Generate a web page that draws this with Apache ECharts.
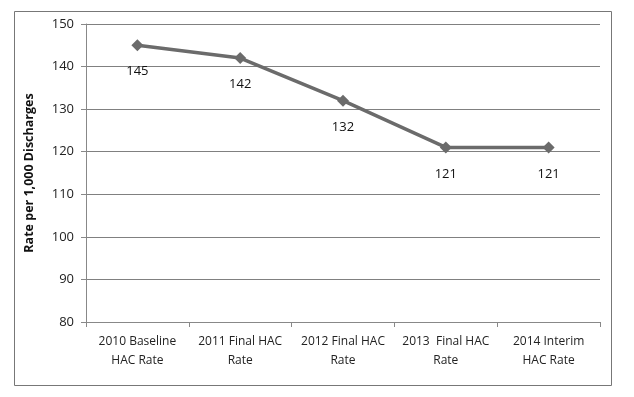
<!DOCTYPE html>
<html>
<head>
<meta charset="utf-8">
<script src="https://cdn.jsdelivr.net/npm/echarts@6/dist/echarts.min.js"></script>
<style>
  html, body { margin: 0; padding: 0; background: #fff; }
  #chart { width: 634px; height: 397px; }
</style>
</head>
<body>
<div id="chart"></div>
<script>
'use strict';
var categories = ['2010 Baseline\nHAC Rate', '2011 Final HAC\nRate', '2012 Final HAC\nRate', '2013  Final HAC\nRate', '2014 Interim\nHAC Rate'];
var rates = [145, 142, 132, 121, 121];
var yTicks = [80, 90, 100, 110, 120, 130, 140, 150];

var chart = echarts.init(document.getElementById('chart'));
var font = "'Open Sans', 'Noto Sans', sans-serif";
chart.setOption({
  animation: false,
  backgroundColor: '#fff',
  textStyle: { fontFamily: font },
  graphic: [{
    type: 'rect',
    shape: { x: 14.5, y: 11.5, width: 597, height: 374 },
    style: { fill: 'none', stroke: '#777', lineWidth: 1 }
  }],
  grid: { left: 86, right: 34, top: 24, bottom: 75 },
  xAxis: {
    type: 'category',
    data: categories,
    boundaryGap: true,
    axisLine: { lineStyle: { color: '#888' } },
    axisTick: { show: true, length: 5, lineStyle: { color: '#888' } },
    axisLabel: { color: '#222', fontSize: 12, lineHeight: 19, margin: 10, interval: 0 }
  },
  yAxis: {
    type: 'value',
    min: yTicks[0],
    max: yTicks[yTicks.length - 1],
    interval: 10,
    name: 'Rate per 1,000 Discharges',
    nameLocation: 'middle',
    nameGap: 50,
    nameTextStyle: { color: '#111', fontSize: 12.5, fontWeight: 'bold' },
    axisLine: { show: true, lineStyle: { color: '#888' } },
    axisTick: { show: true, length: 5, lineStyle: { color: '#888' } },
    axisLabel: { color: '#222', fontSize: 13, margin: 12 },
    splitLine: { lineStyle: { color: '#808080', width: 1 } }
  },
  series: [{
    type: 'line',
    data: rates,
    symbol: 'diamond',
    symbolSize: 12,
    lineStyle: { color: '#6b6b6b', width: 3.5 },
    itemStyle: { color: '#6b6b6b' },
    label: { show: true, position: 'bottom', distance: 14, color: '#111', fontSize: 13 }
  }]
});
</script>
</body>
</html>
